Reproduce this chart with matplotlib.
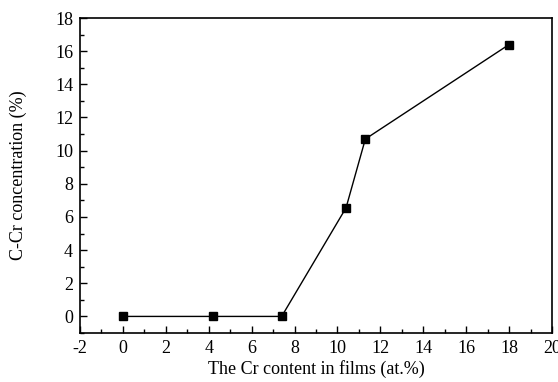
import matplotlib
matplotlib.use("Agg")
import matplotlib.pyplot as plt
from matplotlib.ticker import MultipleLocator

cr_content = [0.0, 4.2, 7.4, 10.4, 11.3, 18.0]
ccr_conc = [0.0, 0.0, 0.0, 6.55, 10.7, 16.4]

plt.rcParams['font.family'] = ['Liberation Serif', 'DejaVu Serif']
plt.rcParams['axes.unicode_minus'] = False

fig = plt.figure(figsize=(5.58, 3.82), dpi=100)
ax = fig.add_axes([80/558, 1-333/382, (552-80)/558, (333-18)/382])
ax.plot(cr_content, ccr_conc, color='black', lw=1.0, marker='s', ms=5.5)
ax.set_xlim(-2, 20)
ax.set_ylim(-1, 18)
ax.xaxis.set_major_locator(MultipleLocator(2))
ax.xaxis.set_minor_locator(MultipleLocator(1))
ax.yaxis.set_major_locator(MultipleLocator(2))
ax.yaxis.set_minor_locator(MultipleLocator(1))
ax.tick_params(which='both', direction='in', top=False, right=False, labelsize=13, width=1.0)
ax.tick_params(which='major', length=5, pad=5)
ax.tick_params(which='minor', length=3)
for s in ax.spines.values():
    s.set_linewidth(1.2)
ax.set_xlabel('The Cr content in films (at.%)', fontsize=13)
ax.set_ylabel('C-Cr concentration (%)', fontsize=13)
ax.xaxis.set_label_coords(0.5, -0.085)
ax.yaxis.set_label_coords(-0.112, 0.5)
fig.savefig('out.png', dpi=100)
